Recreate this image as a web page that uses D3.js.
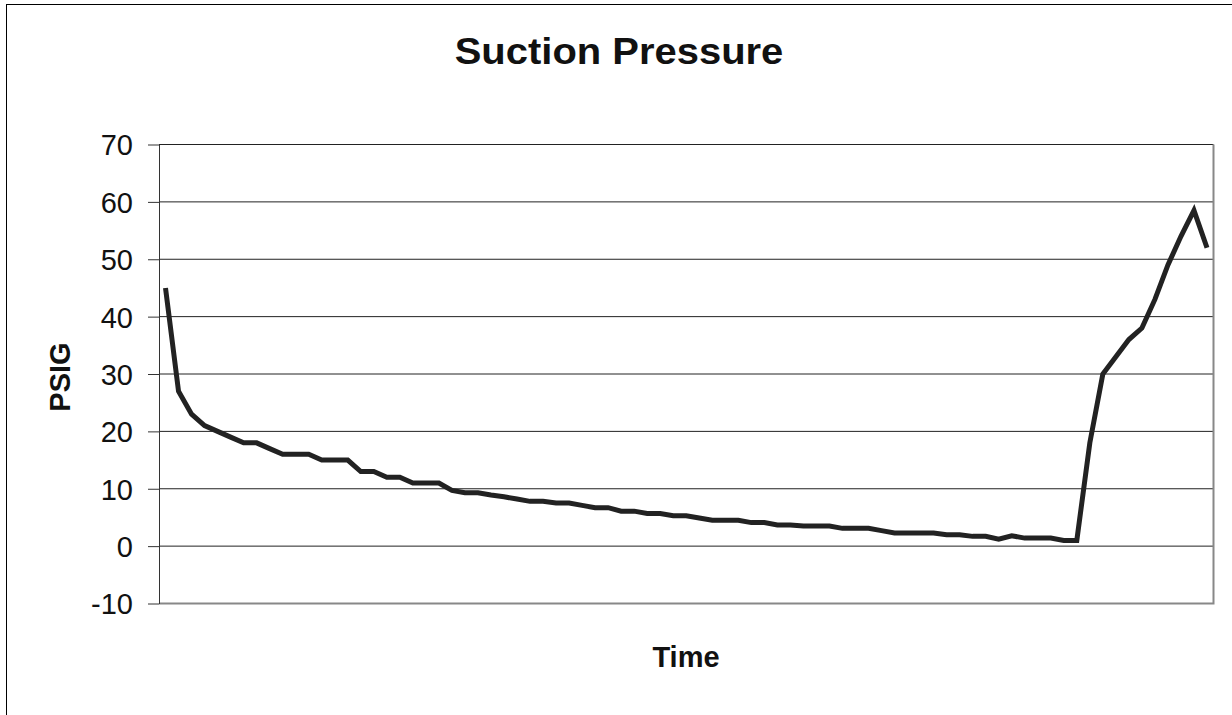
<!DOCTYPE html>
<html>
<head>
<meta charset="utf-8">
<script src="https://cdn.jsdelivr.net/npm/d3@7"></script>
<style>
    body { margin: 0; background: #fff; }
    text { font-family: "Liberation Sans", Arial, sans-serif; fill: #111; }
</style>
</head>
<body>
<svg class="chart-svg" width="1232" height="715"></svg>
<script>
// Readings, one per time step
var pressure = [45, 27, 23, 21, 20, 19, 18, 18, 17, 16,
    16, 16, 15, 15, 15, 13, 13, 12, 12, 11,
    11, 11, 9.7, 9.3, 9.3, 8.9, 8.6, 8.2, 7.8, 7.8,
    7.5, 7.5, 7.1, 6.7, 6.7, 6.1, 6.1, 5.7, 5.7, 5.3,
    5.3, 4.9, 4.5, 4.5, 4.5, 4.1, 4.1, 3.7, 3.7, 3.5,
    3.5, 3.5, 3.1, 3.1, 3.1, 2.7, 2.3, 2.3, 2.3, 2.3,
    2.0, 2.0, 1.7, 1.7, 1.2, 1.8, 1.4, 1.4, 1.4, 1.0,
    1.0, 18, 30, 33, 36, 38, 43, 49, 54, 58.5,
    52];
var timeSteps = d3.range(pressure.length);
var yTicks = [-10, 0, 10, 20, 30, 40, 50, 60, 70];

var title = "Suction Pressure",
    xLabel = "Time",
    yLabel = "PSIG";

var svg = d3.select(".chart-svg"),
    plot = {left: 159, right: 1213.5, top: 144.5, bottom: 603.5};

// Outer chart frame (runs off the right and bottom of the picture)
svg.append("rect")
    .attr("x", 6.5).attr("y", 4.5)
    .attr("width", 1300).attr("height", 800)
    .attr("fill", "none").attr("stroke", "#000");

// Scaling
var x = d3.scalePoint().domain(timeSteps).range([plot.left, plot.right]).padding(0.5),
    y = d3.scaleLinear().domain([-10, 70]).range([plot.bottom, plot.top]);

// Gridlines
svg.append("g")
    .selectAll("line")
    .data(yTicks.slice(1))
    .enter()
        .append("line")
        .attr("x1", plot.left).attr("x2", plot.right)
        .attr("y1", function(d) { return y(d); })
        .attr("y2", function(d) { return y(d); })
        .attr("stroke", "#222")
        .attr("stroke-width", 1);

// Plot area border, gray on the right and bottom
svg.append("path")
    .attr("d", "M" + plot.right + "," + plot.top + "V" + plot.bottom + "H" + plot.left)
    .attr("fill", "none")
    .attr("stroke", "#888")
    .attr("stroke-width", 2);

// Y-axis
var yAxis = svg.append("g")
    .attr("transform", "translate(" + plot.left + ",0)")
    .call(d3.axisLeft(y)
        .tickValues(yTicks)
        .tickFormat(function(d) { return String(d); })
        .tickSize(11).tickSizeOuter(0).tickPadding(15));
yAxis.select(".domain").attr("stroke", "#333");
yAxis.selectAll(".tick line").attr("stroke", "#333");
yAxis.selectAll(".tick text")
    .attr("font-size", 29)
    .attr("font-family", null)
    .attr("fill", null)
    .attr("dy", "0.36em");

// Series line
var line = d3.line()
    .x(function(d, i) { return x(i); })
    .y(function(d) { return y(d); });

svg.append("path")
    .datum(pressure)
    .attr("d", line)
    .attr("fill", "none")
    .attr("stroke", "#222")
    .attr("stroke-width", 5);

// Title
svg.append("text")
    .attr("transform", "translate(619,64) scale(1.08,1)")
    .style("text-anchor", "middle")
    .attr("font-weight", "bold")
    .attr("font-size", 37)
    .text(title);

// Text label for the x axis
svg.append("text")
    .attr("transform", "translate(686,667)")
    .style("text-anchor", "middle")
    .attr("font-weight", "bold")
    .attr("font-size", 29)
    .text(xLabel);

// Text label for the y axis
svg.append("text")
    .attr("transform", "translate(70,377) rotate(-90)")
    .style("text-anchor", "middle")
    .attr("font-weight", "bold")
    .attr("font-size", 29)
    .text(yLabel);
</script>
</body>
</html>
